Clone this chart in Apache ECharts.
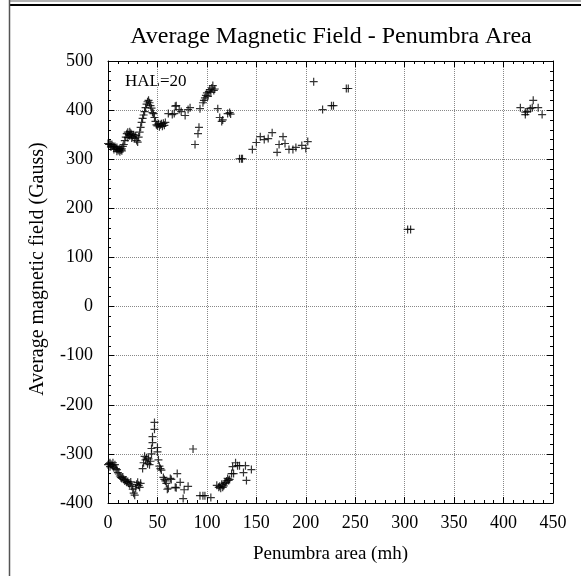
<!DOCTYPE html>
<html>
<head>
<meta charset="utf-8">
<script src="https://cdn.jsdelivr.net/npm/echarts@6/dist/echarts.min.js"></script>
<style>
  html, body { margin: 0; padding: 0; background: #fff; }
  #chart { width: 581px; height: 576px; }
</style>
</head>
<body>
<div id="chart"></div>
<script>
// penumbra area (mh) vs average field (Gauss), positive polarity spots
const positiveField = [
  [0, 332], [1, 330], [2, 331], [3, 329], [3, 325], [4, 330], [5, 327], [6, 325], [6, 320],
  [7, 326], [8, 322], [9, 324], [9, 316], [10, 320], [11, 318], [12, 322], [12, 315],
  [13, 319], [14, 321], [14, 317], [15, 326], [16, 330], [17, 338], [18, 345], [19, 352],
  [20, 355], [20, 344], [21, 350], [22, 348], [22, 356], [23, 353], [24, 351], [24, 343],
  [25, 346], [26, 350], [27, 343], [28, 348], [29, 338], [30, 335], [31, 345], [32, 355],
  [33, 365], [34, 375], [35, 383], [36, 390], [37, 397], [38, 405], [39, 412], [40, 417],
  [41, 420], [42, 415], [43, 409], [44, 404], [45, 395], [46, 393], [47, 385], [48, 377],
  [49, 370], [50, 368], [51, 372], [52, 366], [53, 370], [54, 372], [55, 367], [56, 373],
  [57, 369], [58, 375], [61, 393], [65, 391], [67, 393], [68, 408], [69, 409], [72, 401],
  [74, 397], [78, 389], [81, 401], [83, 405], [88, 330], [91, 352], [92, 365], [93, 403],
  [96, 415], [97, 420], [98, 425], [99, 430], [100, 435], [101, 428], [102, 438], [103, 442],
  [104, 436], [105, 445], [106, 450], [107, 440], [108, 443], [111, 403], [113, 385],
  [115, 377], [116, 380], [121, 393], [123, 395], [124, 392], [133, 301], [135, 301],
  [136, 301], [146, 320], [150, 334], [154, 346], [158, 340], [162, 342], [166, 354],
  [171, 314], [173, 330], [177, 346], [179, 332], [183, 320], [187, 320], [190, 324],
  [196, 328], [200, 322], [202, 336], [208, 458], [217, 401], [226, 409], [228, 409],
  [241, 444], [243, 444], [303, 157], [306, 157], [417, 405], [422, 391], [422, 396],
  [424, 397], [427, 403], [429, 405], [430, 420], [435, 405], [439, 391]
];

// negative polarity spots
const negativeField = [
  [0, -322], [1, -320], [2, -318], [2, -326], [3, -321], [4, -323], [5, -325], [5, -318],
  [6, -328], [7, -322], [8, -330], [9, -332], [10, -338], [11, -341], [12, -345],
  [13, -348], [14, -350], [15, -347], [16, -352], [17, -355], [18, -353], [19, -358],
  [20, -356], [21, -360], [22, -363], [23, -357], [24, -366], [25, -372], [26, -380],
  [27, -384], [28, -370], [29, -362], [30, -358], [31, -364], [32, -368], [33, -360],
  [35, -330], [36, -318], [37, -305], [38, -312], [39, -308], [40, -320], [41, -310],
  [42, -322], [43, -315], [44, -300], [44, -289], [45, -277], [45, -265], [47, -250],
  [47, -236], [50, -287], [50, -296], [51, -312], [52, -325], [53, -330], [54, -333],
  [56, -348], [57, -352], [58, -355], [59, -360], [60, -372], [61, -370], [63, -350],
  [64, -352], [68, -368], [69, -369], [70, -340], [73, -358], [76, -391], [77, -373],
  [81, -366], [86, -290], [93, -385], [96, -385], [98, -385], [104, -389], [110, -364],
  [112, -368], [113, -366], [114, -370], [115, -362], [116, -368], [117, -365], [118, -360],
  [119, -358], [120, -355], [121, -350], [122, -354], [123, -352], [125, -340], [126, -326],
  [127, -340], [129, -318], [131, -324], [133, -324], [137, -338], [139, -324],
  [140, -354], [145, -332]
];

const xTicks = { min: 0, max: 450, step: 50 };
const yTicks = { min: -400, max: 500, step: 100 };

const chart = echarts.init(document.getElementById('chart'));

const serif = 'Liberation Serif';
// gnuplot style "+" glyph
const plusPath = 'path://M0,4.25h10v1.5h-10z M4.25,0h1.5v10h-1.5z';

function axisBase(range, pos, labels) {
  return {
    type: 'value',
    position: pos,
    min: range.min,
    max: range.max,
    interval: range.step,
    axisLine: { show: true, onZero: false, lineStyle: { color: '#000', width: 1 } },
    axisTick: { show: true, inside: true, length: 6, lineStyle: { color: '#000' } },
    minorTick: { show: true, splitNumber: 5, length: 3, lineStyle: { color: '#000' } },
    axisLabel: { show: labels, color: '#000', fontFamily: serif, fontSize: 18 },
    splitLine: { show: labels, lineStyle: { color: '#888', type: 'dotted', width: 1 } }
  };
}

const xBottom = axisBase(xTicks, 'bottom', true);
xBottom.axisLabel.margin = 11;
xBottom.name = 'Penumbra area (mh)';
xBottom.nameLocation = 'middle';
xBottom.nameGap = 42;
xBottom.nameTextStyle = { color: '#000', fontFamily: serif, fontSize: 19 };

const yLeft = axisBase(yTicks, 'left', true);
yLeft.axisLabel.margin = 15;
yLeft.name = 'Average magnetic field (Gauss)';
yLeft.nameLocation = 'middle';
yLeft.nameGap = 60;
yLeft.nameTextStyle = { color: '#000', fontFamily: serif, fontSize: 20, padding: [0, 0, 0, 26] };

const option = {
  backgroundColor: '#fff',
  animation: false,
  title: {
    text: 'Average Magnetic Field - Penumbra Area',
    left: 326,
    textAlign: 'center',
    top: 20,
    textStyle: { color: '#000', fontFamily: serif, fontSize: 24, fontWeight: 'normal' }
  },
  grid: { left: 108, right: 28, top: 61, bottom: 73 },
  xAxis: [xBottom, axisBase(xTicks, 'top', false)],
  yAxis: [yLeft, axisBase(yTicks, 'right', false)],
  graphic: [
    { type: 'line', shape: { x1: 9, y1: 1, x2: 581, y2: 1 }, style: { stroke: '#999', lineWidth: 1.5 } },
    { type: 'line', shape: { x1: 9, y1: 5, x2: 581, y2: 5 }, style: { stroke: '#000', lineWidth: 2 } },
    { type: 'line', shape: { x1: 9.5, y1: 0, x2: 9.5, y2: 576 }, style: { stroke: '#555', lineWidth: 1.5 } },
    {
      type: 'text', left: 125, top: 73,
      style: { text: 'HAL=20', fill: '#000', font: '17px "Liberation Serif"' }
    }
  ],
  series: [
    {
      type: 'scatter',
      data: positiveField,
      symbol: plusPath,
      symbolSize: 8,
      itemStyle: { color: '#000' }
    },
    {
      type: 'scatter',
      data: negativeField,
      symbol: plusPath,
      symbolSize: 8,
      itemStyle: { color: '#000' }
    }
  ]
};

chart.setOption(option);
</script>
</body>
</html>
